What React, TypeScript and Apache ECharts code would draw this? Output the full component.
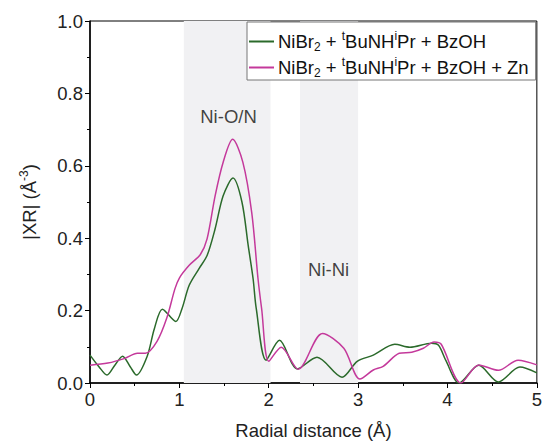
import React, { useEffect, useRef } from "react";
import * as echarts from "echarts";

const seriesNames = ["NiBr2 + tBuNHiPr + BzOH", "NiBr2 + tBuNHiPr + BzOH + Zn"];
const legendRich = [
  "NiBr{sub|2} + {sup|t}BuNH{sup|i}Pr + BzOH",
  "NiBr{sub|2} + {sup|t}BuNH{sup|i}Pr + BzOH + Zn",
];

const greenX = [0, 0.1, 0.19, 0.28, 0.365, 0.45, 0.52, 0.64, 0.72, 0.81, 0.96, 1.03, 1.11, 1.22, 1.31, 1.4, 1.49, 1.6, 1.7, 1.77, 1.825, 1.86, 1.97, 2.12, 2.32, 2.54, 2.82, 2.99, 3.17, 3.41, 3.58, 3.82, 3.9, 3.98, 4.13, 4.35, 4.57, 4.81, 5.0];
const greenY = [0.077, 0.045, 0.022, 0.05, 0.074, 0.045, 0.022, 0.074, 0.15, 0.204, 0.17, 0.206, 0.27, 0.316, 0.352, 0.426, 0.517, 0.566, 0.5, 0.38, 0.288, 0.206, 0.063, 0.118, 0.039, 0.071, 0.016, 0.06, 0.077, 0.107, 0.099, 0.11, 0.104, 0.063, 0.0, 0.049, 0.003, 0.044, 0.028];

const magX = [0, 0.2, 0.39, 0.53, 0.62, 0.75, 0.86, 0.95, 1.0, 1.11, 1.235, 1.31, 1.4, 1.49, 1.596, 1.71, 1.81, 1.88, 1.92, 2.0, 2.14, 2.33, 2.6, 2.84, 3.02, 3.17, 3.28, 3.46, 3.6, 3.73, 3.85, 3.93, 4.15, 4.35, 4.57, 4.79, 5.0];
const magY = [0.049, 0.055, 0.068, 0.082, 0.082, 0.115, 0.18, 0.26, 0.29, 0.325, 0.355, 0.398, 0.517, 0.61, 0.673, 0.61, 0.47, 0.288, 0.206, 0.06, 0.099, 0.038, 0.137, 0.096, 0.011, 0.036, 0.046, 0.082, 0.085, 0.096, 0.113, 0.107, 0.0, 0.05, 0.035, 0.063, 0.05];

const regionLabels = ["Ni-O/N", "Ni-Ni"];
const regionLabelX = [1.55, 2.67];
const regionLabelY = [0.736, 0.313];
const shadedStart = [1.05, 2.35];
const shadedEnd = [2.02, 3.0];

const xTicks = { min: 0, max: 5, interval: 1 };
const yTicks = { min: 0, max: 1, interval: 0.2 };

const FONT = "'Liberation Sans', Arial, sans-serif";
const FS = 18.5;

export default function App() {
  const ref = useRef<HTMLDivElement>(null);
  useEffect(() => {
    if (!ref.current) return;
    const chart = echarts.init(ref.current, undefined, { renderer: "svg" });
    const zip = (xs: number[], ys: number[]) => xs.map((x, i) => [x, ys[i]]);
    chart.setOption({
      animation: false,
      textStyle: { fontFamily: FONT },
      grid: { left: 90, right: 3, top: 21, bottom: 60, show: true, borderColor: "#000", borderWidth: 1 },
      legend: {
        data: seriesNames,
        orient: "vertical",
        left: 247,
        top: 22,
        itemGap: 3,
        itemWidth: 25,
        itemHeight: 2,
        icon: "rect",
        padding: [8, 7, 1, 2],
        borderColor: "#777",
        borderWidth: 1,
        backgroundColor: "#fff",
        formatter: (name: string) => legendRich[seriesNames.indexOf(name)],
        textStyle: {
          fontFamily: FONT,
          fontSize: FS,
          color: "#111",
          lineHeight: 23,
          padding: [0, 0, 0, -1],
          rich: {
            sub: { fontSize: 12, lineHeight: 14, verticalAlign: "bottom", fontFamily: FONT, color: "#111" },
            sup: { fontSize: 12, lineHeight: 16, verticalAlign: "top", fontFamily: FONT, color: "#111" },
          },
        },
      },
      xAxis: {
        type: "value",
        ...xTicks,
        name: "Radial distance (Å)",
        nameLocation: "middle",
        nameGap: 38,
        nameTextStyle: { fontSize: FS, color: "#222", fontFamily: FONT },
        axisLine: { lineStyle: { color: "#000", width: 1.5 } },
        axisTick: { inside: false, length: 5, lineStyle: { color: "#000" } },
        minorTick: { show: true, splitNumber: 2, length: 3, lineStyle: { color: "#000" } },
        axisLabel: { fontSize: FS, color: "#222", margin: 7, fontFamily: FONT },
        splitLine: { show: false },
      },
      yAxis: {
        type: "value",
        ...yTicks,
        name: "|XR| (Å{sup|-3})",
        nameLocation: "middle",
        nameGap: 50,
        nameRotate: 90,
        nameTextStyle: {
          fontSize: FS,
          color: "#222",
          fontFamily: FONT,
          lineHeight: 22,
          rich: { sup: { fontSize: 12, lineHeight: 15, verticalAlign: "top", fontFamily: FONT, color: "#222" } },
        },
        axisLine: { show: true, lineStyle: { color: "#000", width: 1.5 } },
        axisTick: { show: true, inside: false, length: 5, lineStyle: { color: "#000" } },
        minorTick: { show: true, splitNumber: 2, length: 3, lineStyle: { color: "#000" } },
        axisLabel: { fontSize: FS, color: "#222", margin: 7, fontFamily: FONT, formatter: (v: number) => v.toFixed(1) },
        splitLine: { show: false },
      },
      series: [
        {
          name: "shade",
          type: "line",
          data: [],
          z: 1,
          silent: true,
          markArea: {
            silent: true,
            itemStyle: { color: "#f1f1f3" },
            data: shadedStart.map((s, i) => [{ xAxis: s }, { xAxis: shadedEnd[i] }]),
          },
        },
        {
          name: "labels",
          type: "scatter",
          z: 2,
          symbolSize: 0,
          data: regionLabels.map((t, i) => ({ value: [regionLabelX[i], regionLabelY[i]], name: t })),
          label: {
            show: true,
            position: "inside",
            formatter: (p: any) => p.name,
            fontSize: FS,
            color: "#111",
            fontFamily: FONT,
          },
          silent: true,
        },
        {
          name: seriesNames[0],
          type: "line",
          z: 3,
          data: zip(greenX, greenY),
          smooth: 0.3,
          symbol: "none",
          lineStyle: { color: "#2b6a2b", width: 1.5 },
          itemStyle: { color: "#2b6a2b" },
        },
        {
          name: seriesNames[1],
          type: "line",
          z: 4,
          data: zip(magX, magY),
          smooth: 0.3,
          symbol: "none",
          lineStyle: { color: "#c4399b", width: 1.5 },
          itemStyle: { color: "#c4399b" },
        },
      ],
    });
    return () => chart.dispose();
  }, []);
  return <div ref={ref} style={{ width: 545, height: 445, position: "absolute", left: 0, top: 0 }} />;
}
